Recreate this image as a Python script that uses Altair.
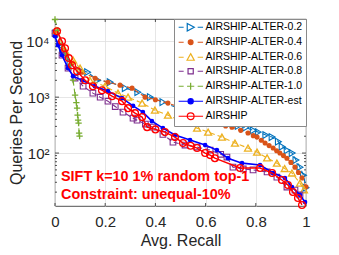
import altair as alt
import pandas as pd

# ---------------- data ----------------
series_names = ["AIRSHIP-ALTER-0.2", "AIRSHIP-ALTER-0.4", "AIRSHIP-ALTER-0.6",
                "AIRSHIP-ALTER-0.8", "AIRSHIP-ALTER-1.0", "AIRSHIP-ALTER-est", "AIRSHIP"]
series_colors = ["#0072BD", "#D95319", "#EDB120", "#7E2F8E", "#77AC30", "#0000FF", "#FF0000"]

recall_02 = [0.004, 0.03, 0.06, 0.10, 0.13, 0.17, 0.22, 0.28, 0.33, 0.38, 0.43, 0.49, 0.55, 0.60,
             0.64, 0.69, 0.73, 0.76, 0.79, 0.81, 0.84, 0.865, 0.89, 0.905, 0.925, 0.945, 0.96,
             0.976, 0.99, 1.0]
qps_02 = [13900, 6900, 4200, 3000, 2800, 2010, 1850, 1450, 1230, 1000, 815, 636, 477, 405,
          370, 335, 305, 285, 255, 237, 210, 193, 160, 130, 112, 100, 75, 56, 40, 24]

recall_04 = [0.004, 0.03, 0.068, 0.108, 0.16, 0.211, 0.259, 0.307, 0.359, 0.40, 0.45, 0.49,
             0.526, 0.56, 0.598, 0.645, 0.68, 0.705, 0.74, 0.769, 0.79, 0.805, 0.822, 0.837,
             0.853, 0.869, 0.883, 0.896, 0.91, 0.924, 0.94, 0.956, 0.97, 0.984, 1.0]
qps_04 = [14500, 6900, 4050, 2800, 2180, 1850, 1640, 1450, 1000, 900, 782, 680, 586, 500, 422,
          330, 305, 291, 255, 228, 205, 193, 170, 151, 136, 123, 110, 100, 90, 81, 68, 56, 45,
          36, 25]

recall_06 = [0.004, 0.04, 0.072, 0.10, 0.139, 0.199, 0.251, 0.291, 0.347, 0.398, 0.45, 0.51,
             0.566, 0.61, 0.665, 0.717, 0.769, 0.805, 0.845, 0.884, 0.915, 0.944, 0.976, 0.992]
qps_06 = [15600, 6900, 4600, 3300, 2010, 1570, 1180, 1000, 782, 586, 477, 358, 279, 237, 193,
          151, 123, 104, 82, 66, 53, 44, 29, 22]

recall_08 = [0.0, 0.028, 0.052, 0.08, 0.112, 0.151, 0.18, 0.211, 0.24, 0.271, 0.311, 0.327,
             0.36, 0.39, 0.43, 0.47, 0.518, 0.566, 0.618, 0.66, 0.685, 0.709, 0.75, 0.789,
             0.845, 0.884, 0.924, 0.956, 0.976]
qps_08 = [13900, 5620, 3300, 2180, 1570, 1180, 1000, 848, 680, 540, 422, 388, 330, 291, 215,
          157, 139, 128, 113, 95, 85, 56, 52, 50, 46, 37, 24.7, 21.8, 17.8]

recall_10 = [0.0, 0.012, 0.028, 0.044, 0.06, 0.072, 0.08, 0.085, 0.088, 0.09, 0.092, 0.094,
             0.096, 0.098]
qps_10 = [24500, 15600, 8500, 5620, 3730, 2010, 1090, 800, 636, 477, 388, 343, 228, 201]

recall_est = [0.0, 0.012, 0.028, 0.052, 0.072, 0.108, 0.159, 0.211, 0.267, 0.311, 0.35, 0.386,
              0.43, 0.478, 0.538, 0.598, 0.645, 0.689, 0.745, 0.817, 0.869, 0.916, 0.944,
              0.976, 0.996]
qps_est = [12280, 8500, 5620, 3300, 2370, 2010, 1570, 1280, 960, 700, 540, 372, 279, 210, 171,
           139, 113, 81, 66, 61, 44, 35.8, 24.7, 17.8, 13.3]

recall_airship = [0.008, 0.028, 0.04, 0.055, 0.068, 0.088, 0.12, 0.151, 0.187, 0.227, 0.267,
                  0.291, 0.319, 0.347, 0.367, 0.40, 0.438, 0.478, 0.51, 0.54, 0.566, 0.598,
                  0.618, 0.637, 0.737, 0.817, 0.865, 0.904, 0.928, 0.948, 0.968, 0.984]
qps_airship = [15100, 10000, 7500, 5000, 3730, 2910, 2010, 1570, 1330, 1040, 848, 636, 518,
               440, 291, 265, 237, 193, 151, 135, 123, 100, 92, 81, 54, 54, 44, 33, 26.8, 20.1,
               15.7, 11.8]

x_tick_values = [0, 0.2, 0.4, 0.6, 0.8, 1.0]
y_tick_values = [100, 1000, 10000]
y_tick_labels = ["10²", "10³", "10⁴"]
y_minor_ticks = [20, 30, 40, 50, 60, 70, 80, 90,
                 200, 300, 400, 500, 600, 700, 800, 900,
                 2000, 3000, 4000, 5000, 6000, 7000, 8000, 9000, 20000]
annotation_lines = ["SIFT k=10 1% random top-1", "Constraint: unequal-10%"]
x_title = "Avg. Recall"
y_title = "Queries Per Second"

all_recall = [recall_02, recall_04, recall_06, recall_08, recall_10, recall_est, recall_airship]
all_qps = [qps_02, qps_04, qps_06, qps_08, qps_10, qps_est, qps_airship]

# ---------------- styles ----------------
W, H = 251, 187
FONT = "Liberation Sans"
TXT = "#262626"

PLUS = "M-1,0H1M0,-1V1"
styles = [
    dict(dash=[5, 3], lw=1.1, shape="triangle-right", size=46, filled=False, sw=1.1),
    dict(dash=[5, 3], lw=1.1, shape="circle", size=26, filled=True, sw=0),
    dict(dash=[5, 3], lw=1.1, shape="triangle-up", size=48, filled=False, sw=1.3),
    dict(dash=[5, 3], lw=1.1, shape="square", size=32, filled=False, sw=1.1),
    dict(dash=[5, 3], lw=1.1, shape=PLUS, size=40, filled=False, sw=1.3),
    dict(dash=None, lw=1.6, shape="circle", size=22, filled=True, sw=0),
    dict(dash=None, lw=1.4, shape="circle", size=46, filled=False, sw=1.3),
]

# legend symbols: line sample + marker, in units of 4px (symbolSize 64)
DL = "M-0.9,0H0.35M3.85,0H5.2"
SOLID = "M-0.9,0H5.2"
def circ(r):
    return f"M{2.1 + r},0A{r},{r},0,1,1,{2.1 - r},0A{r},{r},0,1,1,{2.1 + r},0Z"
legend_paths = [
    DL + "M1.25,-0.95L3.0,0L1.25,0.95Z",
    DL + circ(0.6),
    DL + "M2.1,-0.9L3.0,0.75L1.2,0.75Z",
    DL + "M1.45,-0.65H2.75V0.65H1.45Z",
    DL + "M2.1,-0.9V0.9M1.2,0H3.0",
    SOLID + circ(0.65),
    SOLID + circ(0.85),
]
legend_fills = ["transparent", "#D95319", "transparent", "transparent", "transparent",
                "#0000FF", "transparent"]

rows = []
for name, xs, ys in zip(series_names, all_recall, all_qps):
    for i, (a, b) in enumerate(zip(xs, ys)):
        rows.append({"series": name, "recall": a, "qps": b, "idx": i})
df = pd.DataFrame(rows)

x_enc = alt.X("recall:Q",
              scale=alt.Scale(domain=[0, 1], nice=False, zero=False),
              axis=alt.Axis(values=x_tick_values, format="~g", title=x_title,
                            grid=True, ticks=False, domain=False, labelPadding=8,
                            labelFlush=False, titlePadding=3))
y_label_expr = " : ".join(
    [f"datum.value == {v} ? '{l}'" for v, l in zip(y_tick_values[:-1], y_tick_labels[:-1])]
) + f" : '{y_tick_labels[-1]}'"
y_enc = alt.Y("qps:Q",
              scale=alt.Scale(type="log", domain=[11.3, 25000], nice=False),
              axis=alt.Axis(values=y_tick_values, labelExpr=y_label_expr, title=y_title,
                            grid=True, ticks=False, domain=False, labelPadding=6,
                            labelFlush=False, titlePadding=1))

layers = []

# tick marks (inward, on all sides)
xt = pd.DataFrame({"recall": x_tick_values})
layers.append(alt.Chart(xt).mark_rule(color=TXT, strokeWidth=0.8).encode(
    x=x_enc, y=alt.value(H), y2=alt.value(H - 3)))
layers.append(alt.Chart(xt).mark_rule(color=TXT, strokeWidth=0.8).encode(
    x=x_enc, y=alt.value(0), y2=alt.value(3)))
for vals, ln in [(y_tick_values, 4), (y_minor_ticks, 2)]:
    yt = pd.DataFrame({"qps": vals})
    layers.append(alt.Chart(yt).mark_rule(color=TXT, strokeWidth=0.8).encode(
        y=y_enc, x=alt.value(0), x2=alt.value(ln)))
    layers.append(alt.Chart(yt).mark_rule(color=TXT, strokeWidth=0.8).encode(
        y=y_enc, x=alt.value(W - ln), x2=alt.value(W)))

for name, col, st in zip(series_names, series_colors, styles):
    sub = df[df.series == name]
    line_kw = dict(color=col, strokeWidth=st["lw"])
    if st["dash"]:
        line_kw["strokeDash"] = st["dash"]
    layers.append(alt.Chart(sub).mark_line(**line_kw).encode(
        x=x_enc, y=y_enc, order="idx:Q"))
    if st["filled"]:
        pt = alt.Chart(sub).mark_point(shape=st["shape"], size=st["size"], filled=True,
                                       color=col, opacity=1)
    else:
        pt = alt.Chart(sub).mark_point(shape=st["shape"], size=st["size"], filled=False,
                                       color=col, strokeWidth=st["sw"], opacity=1)
    layers.append(pt.encode(x=x_enc, y=y_enc))

leg = alt.Legend(title=None, orient="top-right", offset=0, padding=3,
                 strokeColor="#8a8a8a", fillColor="white", symbolSize=64,
                 symbolStrokeWidth=1.2, labelFont=FONT, labelFontSize=10.5,
                 labelColor="black", labelOffset=18, rowPadding=3, labelLimit=300)
layers.append(alt.Chart(df).mark_point(filled=False, opacity=1).encode(
    color=alt.Color("series:N", scale=alt.Scale(domain=series_names, range=series_colors),
                    legend=leg),
    fill=alt.Fill("series:N", scale=alt.Scale(domain=series_names, range=legend_fills),
                  legend=leg),
    shape=alt.Shape("series:N", scale=alt.Scale(domain=series_names, range=legend_paths),
                    legend=leg),
).transform_filter("false"))

annot_y = [158, 176]
for txt, yy in zip(annotation_lines, annot_y):
    layers.append(alt.Chart(pd.DataFrame({"t": [txt]})).mark_text(
        align="left", baseline="middle", font=FONT, fontSize=14.4, fontWeight="bold",
        color="#FF0000").encode(x=alt.value(6), y=alt.value(yy), text="t:N"))

chart = alt.layer(*layers).properties(
    width=W, height=H,
    autosize=alt.AutoSizeParams(type="none"),
    padding={"left": 47, "top": 11, "right": 25, "bottom": 46},
).configure_view(stroke=TXT, strokeWidth=0.8).configure_axis(
    labelFont=FONT, titleFont=FONT, labelFontSize=15, titleFontSize=16,
    titleFontWeight="normal", labelColor=TXT, titleColor=TXT,
    gridColor="#dfdfdf", gridWidth=0.8,
)

chart.save("out.html", embed_options={"renderer": "svg", "actions": False})
